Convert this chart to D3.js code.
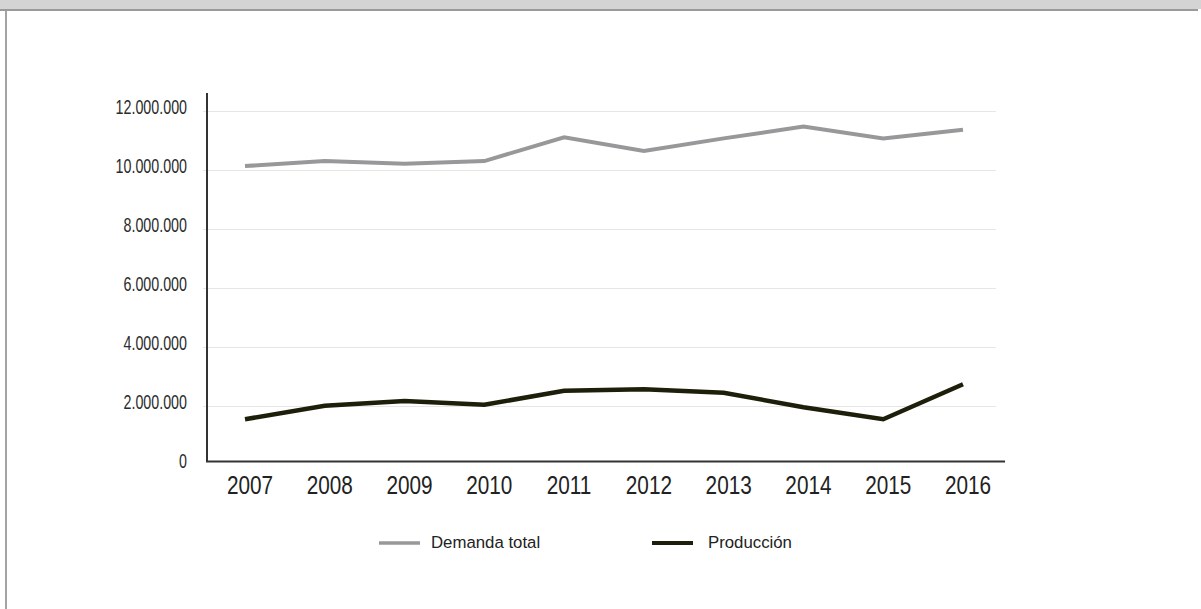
<!DOCTYPE html>
<html>
<head>
<meta charset="utf-8">
<script src="https://cdn.jsdelivr.net/npm/d3@7"></script>
<style>
  html, body { margin: 0; padding: 0; background: #fff; }
  svg { display: block; }
</style>
</head>
<body>
<script>
const years = ["2007","2008","2009","2010","2011","2012","2013","2014","2015","2016"];
const demandaTotal = [10140000, 10310000, 10220000, 10310000, 11120000, 10650000, 11080000, 11480000, 11080000, 11370000];
const produccion = [1540000, 2000000, 2160000, 2030000, 2510000, 2560000, 2440000, 1950000, 1540000, 2730000];
const yTicks = [0, 2000000, 4000000, 6000000, 8000000, 10000000, 12000000];
const seriesNames = ["Demanda total", "Producción"];

const W = 1201, H = 609;
const svg = d3.select("body").append("svg").attr("width", W).attr("height", H);

// frame
svg.append("rect").attr("x", 0).attr("y", 0).attr("width", W).attr("height", 9).attr("fill", "#d4d4d4");
svg.append("rect").attr("x", 0).attr("y", 9).attr("width", 1198).attr("height", 2).attr("fill", "#9a9a9a");
svg.append("rect").attr("x", 5).attr("y", 11).attr("width", 2).attr("height", H - 11).attr("fill", "#a3a3a5");

const x = d3.scalePoint().domain(years).range([245, 963]);
const y = d3.scaleLinear().domain([0, 12000000]).range([464.6, 111.3]);

// gridlines
svg.append("g").selectAll("line").data(yTicks.filter(d => d > 0)).join("line")
  .attr("x1", 203).attr("x2", 996)
  .attr("y1", d => Math.round(y(d)) + 0.5).attr("y2", d => Math.round(y(d)) + 0.5)
  .attr("stroke", "#e6e6e6").attr("stroke-width", 1);

// y labels
const fmt = v => v === 0 ? "0" : d3.format(",")(v).replace(/,/g, ".");
svg.append("g").selectAll("text").data(yTicks).join("text")
  .attr("transform", d => `translate(187,${y(d) + 3}) scale(0.68,1)`)
  .attr("text-anchor", "end")
  .attr("font-family", "Liberation Sans, Arial, sans-serif")
  .attr("font-size", 21)
  .attr("fill", "#2b2b2b")
  .text(fmt);

// axes
svg.append("line").attr("x1", 207).attr("x2", 207).attr("y1", 93).attr("y2", 462)
  .attr("stroke", "#333").attr("stroke-width", 2);
svg.append("line").attr("x1", 206).attr("x2", 1005).attr("y1", 461.5).attr("y2", 461.5)
  .attr("stroke", "#333").attr("stroke-width", 2);

// x labels
svg.append("g").selectAll("text").data(years).join("text")
  .attr("transform", d => `translate(${x(d) + 5},494) scale(0.83,1)`)
  .attr("text-anchor", "middle")
  .attr("font-family", "Liberation Sans, Arial, sans-serif")
  .attr("font-size", 25)
  .attr("fill", "#222")
  .text(d => d);

const line = d3.line().x((d, i) => x(years[i])).y(d => y(d));
const colors = ["#98989a", "#1e1f0a"];
const widths = [4, 4.5];
[demandaTotal, produccion].forEach((s, k) => {
  svg.append("path").datum(s).attr("d", line)
    .attr("fill", "none").attr("stroke", colors[k]).attr("stroke-width", widths[k])
    .attr("stroke-linejoin", "miter");
});

// legend
const legX = [379, 652], legTextX = [431, 708];
seriesNames.forEach((n, k) => {
  svg.append("line").attr("x1", legX[k]).attr("x2", legX[k] + 41)
    .attr("y1", 543).attr("y2", 543)
    .attr("stroke", colors[k]).attr("stroke-width", k === 0 ? 3.5 : 4);
  svg.append("text").attr("x", legTextX[k]).attr("y", 547.5)
    .attr("font-family", "Liberation Sans, Arial, sans-serif")
    .attr("font-size", 16.8)
    .attr("fill", "#222")
    .text(n);
});
</script>
</body>
</html>
